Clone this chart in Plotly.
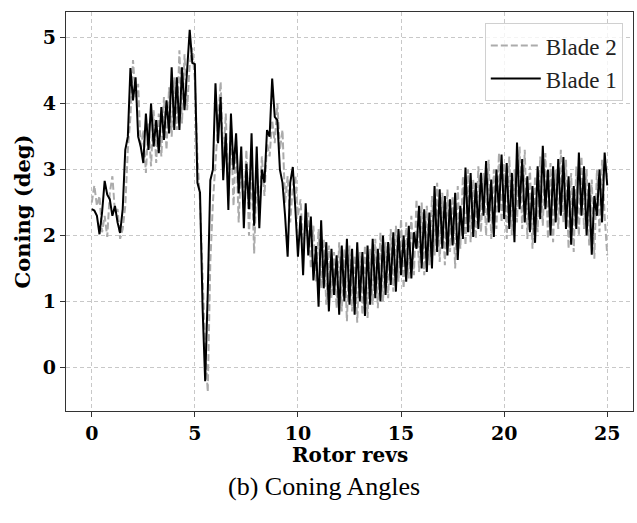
import numpy as np
import plotly.graph_objects as go

# Sampling: 8 samples per rotor revolution, 0 to 25 revs
samples_per_rev = 8
n_samples = 201
rotor_revs = np.arange(n_samples) / samples_per_rev

# Coning angle of blade 1 (deg)
blade1_coning = [
    2.40, 2.38, 2.30, 2.02, 2.35, 2.83, 2.62, 2.55, 2.30, 2.45,
    2.20, 2.04, 2.40, 3.30, 3.50, 4.54, 4.05, 4.40, 3.50, 3.35,
    3.10, 3.85, 3.30, 4.00, 3.35, 3.75, 3.25, 3.95, 3.45, 4.05,
    3.55, 4.55, 3.60, 4.40, 3.60, 4.55, 3.90, 4.50, 5.12, 4.62,
    4.60, 2.80, 2.65, 0.90, -0.21, 1.13, 2.84, 3.00, 4.31, 3.40,
    4.10, 2.84, 3.55, 2.39, 3.85, 3.00, 3.55, 2.64, 3.35, 2.11,
    3.09, 2.40, 3.55, 2.15, 3.35, 2.11, 3.00, 2.80, 3.60, 3.50,
    4.38, 3.80, 3.75, 3.00, 2.80, 2.30, 1.68, 2.80, 3.04, 2.40,
    1.68, 2.30, 1.40, 2.49, 1.70, 2.29, 1.32, 1.84, 0.92, 2.23,
    1.20, 1.90, 0.85, 1.80, 1.10, 1.70, 0.80, 1.85, 1.00, 1.95,
    0.95, 1.80, 0.80, 1.90, 1.00, 1.75, 0.78, 1.85, 0.95, 1.95,
    1.05, 1.80, 1.00, 2.00, 1.10, 1.90, 1.25, 2.05, 1.15, 2.10,
    1.40, 2.00, 1.30, 2.15, 1.35, 2.05, 1.80, 2.45, 1.50, 2.40,
    1.45, 2.35, 1.50, 2.75, 1.75, 2.70, 1.80, 2.60, 1.70, 2.55,
    1.85, 2.65, 1.63, 2.45, 1.95, 3.03, 2.05, 2.95, 1.98, 2.80,
    2.10, 2.95, 2.30, 3.13, 2.20, 2.85, 1.98, 3.00, 2.35, 3.23,
    2.25, 3.10, 2.10, 2.95, 1.90, 3.41, 2.40, 3.16, 2.20, 2.90,
    2.05, 2.75, 1.89, 3.05, 2.25, 3.36, 2.40, 3.00, 2.00, 3.05,
    2.20, 3.16, 2.30, 3.19, 2.10, 2.90, 1.86, 2.75, 2.10, 3.26,
    2.30, 3.05, 2.00, 2.80, 1.71, 2.60, 2.30, 3.00, 2.20, 3.26,
    2.76,
]

# Coning angle of blade 2 (deg)
blade2_coning = [
    2.50, 2.76, 2.45, 2.60, 2.05, 2.30, 1.98, 2.65, 2.90, 2.35,
    2.40, 1.95, 2.10, 2.45, 3.30, 3.80, 4.66, 4.10, 4.30, 3.30,
    3.60, 2.95, 3.70, 3.05, 3.90, 3.10, 3.85, 3.20, 4.10, 3.30,
    4.25, 3.50, 4.40, 3.60, 4.81, 3.70, 4.75, 3.90, 4.60, 4.85,
    4.35, 3.20, 2.50, 1.30, 0.30, -0.37, 1.60, 2.50, 3.20, 3.70,
    4.33, 3.10, 3.85, 2.60, 3.70, 2.45, 3.45, 2.20, 3.15, 2.40,
    3.30, 2.00, 3.05, 1.73, 2.90, 2.30, 3.20, 2.60, 3.40, 3.20,
    3.75, 3.40, 4.00, 3.30, 3.60, 2.50, 2.90, 2.20, 2.75, 2.90,
    2.30, 2.55, 1.80, 2.20, 2.35, 1.50, 2.15, 1.30, 2.10, 1.20,
    1.95, 0.95, 1.85, 1.05, 1.75, 0.90, 1.90, 0.85, 1.80, 0.70,
    1.85, 0.85, 1.70, 0.68, 1.75, 0.80, 1.85, 0.75, 1.80, 0.95,
    1.95, 0.90, 2.05, 1.00, 1.90, 1.05, 2.10, 1.15, 2.15, 1.30,
    2.25, 1.20, 2.20, 1.35, 2.30, 1.40, 2.55, 1.45, 2.50, 1.40,
    2.45, 1.55, 2.60, 1.70, 2.80, 1.60, 2.65, 1.55, 2.70, 1.75,
    2.60, 1.50, 2.75, 1.80, 2.90, 1.85, 3.00, 1.90, 2.85, 1.95,
    3.05, 2.05, 2.95, 2.00, 3.15, 1.95, 3.00, 2.10, 3.25, 2.20,
    3.10, 1.95, 3.20, 2.00, 3.00, 2.20, 3.35, 2.10, 3.30, 1.95,
    3.05, 1.80, 2.90, 2.05, 3.20, 2.15, 3.25, 1.95, 3.10, 1.90,
    3.00, 2.10, 3.30, 2.20, 3.15, 1.80, 2.95, 1.75, 3.05, 2.00,
    3.20, 2.10, 3.00, 1.85, 2.85, 1.65, 3.00, 2.05, 3.15, 2.30,
    1.70,
]

x_ticks = [0, 5, 10, 15, 20, 25]
y_ticks = [0, 1, 2, 3, 4, 5]

tick_font = dict(family="DejaVu Serif", size=19, color="black", weight="bold")
title_font = dict(family="DejaVu Serif", size=21, color="black", weight="bold")
xtitle_font = dict(family="DejaVu Serif", size=20, color="black")
legend_font = dict(family="Liberation Serif", size=23, color="#222222")

fig = go.Figure()
fig.add_trace(go.Scatter(
    x=rotor_revs, y=blade2_coning, mode="lines", name="Blade 2",
    line=dict(color="#ababab", width=2, dash="7px,3px"),
))
fig.add_trace(go.Scatter(
    x=rotor_revs, y=blade1_coning, mode="lines", name="Blade 1",
    line=dict(color="black", width=2),
))

axis_common = dict(
    showline=True, mirror=True, linecolor="#333333", linewidth=1.3,
    ticks="outside", ticklen=5, tickwidth=1.2, tickcolor="#333333",
    showgrid=True, gridcolor="#c8c8c8", gridwidth=1, griddash="4px,3px",
    zeroline=False, tickfont=tick_font,
)

fig.update_layout(
    width=637, height=523,
    margin=dict(l=66, r=4, t=12, b=112),
    paper_bgcolor="white", plot_bgcolor="white",
    xaxis=dict(range=[-1.25, 26.25], tickvals=x_ticks, **axis_common),
    yaxis=dict(
        range=[-0.66, 5.39], tickvals=y_ticks,
        title=dict(text="Coning (deg)", font=title_font, standoff=6),
        **axis_common,
    ),
    legend=dict(
        x=0.982, y=0.972, xanchor="right", yanchor="top",
        bgcolor="rgba(255,255,255,0.8)", bordercolor="#d0d0d0", borderwidth=1,
        font=legend_font, itemwidth=50, tracegroupgap=2,
        entrywidth=118, entrywidthmode="pixels",
    ),
    showlegend=True,
    annotations=[
        dict(
            text="<b>Rotor revs</b>", xref="paper", yref="paper",
            x=0.5, y=-0.11, xanchor="center", yanchor="middle",
            showarrow=False, font=xtitle_font,
        ),
        dict(
            text="(b) Coning Angles", xref="paper", yref="paper",
            x=0.455, y=-0.19, xanchor="center", yanchor="middle",
            showarrow=False, font=dict(family="Liberation Serif", size=26, color="black"),
        ),
    ],
)

fig.write_html("out.html")
